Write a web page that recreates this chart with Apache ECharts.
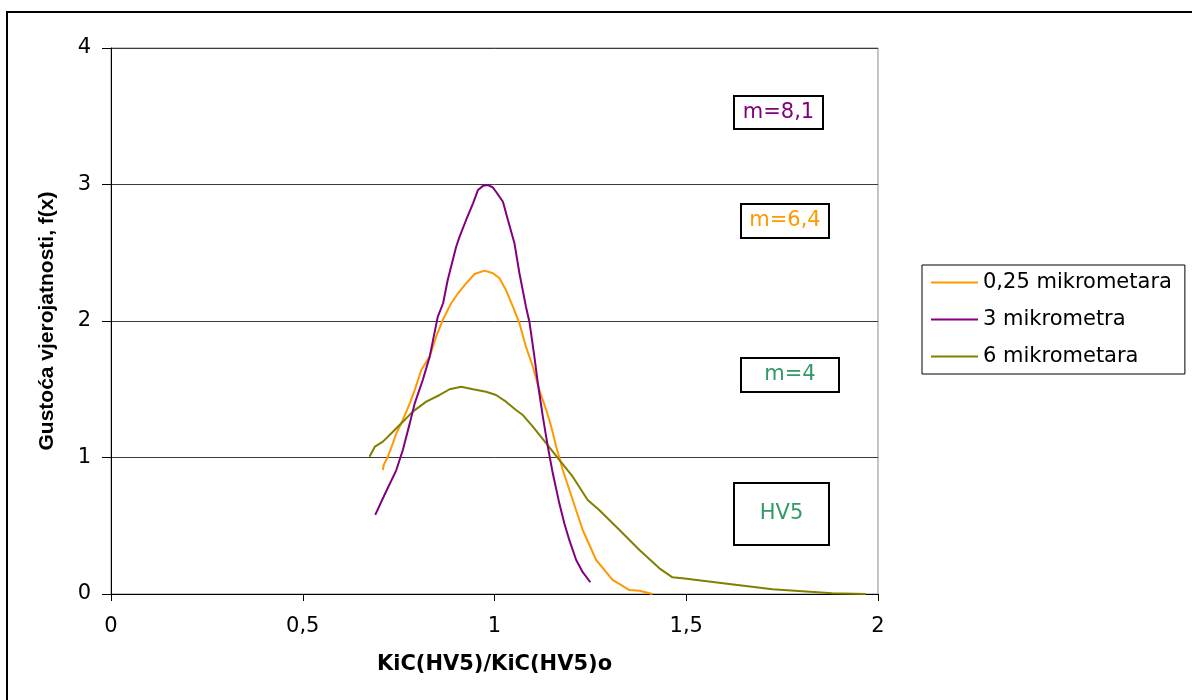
<!DOCTYPE html>
<html>
<head>
<meta charset="utf-8">
<script src="https://cdn.jsdelivr.net/npm/echarts@6/dist/echarts.min.js"></script>
<style>
html,body{margin:0;padding:0;background:#fff;}
#chart{width:1192px;height:700px;}
</style>
</head>
<body>
<div id="chart"></div>
<script>
// ---- data ----
const seriesNames = ['0,25 mikrometara', '3 mikrometra', '6 mikrometara'];

const orangeX = [0.709,0.711,0.722,0.735,0.744,0.761,0.779,0.792,0.809,0.831,0.848,0.865,0.887,0.905,0.926,0.948,0.974,0.996,1.013,1.030,1.048,1.065,1.082,1.100,1.117,1.135,1.148,1.161,1.178,1.204,1.230,1.265,1.308,1.352,1.378,1.412];
const orangeY = [0.908,0.945,1.006,1.104,1.177,1.275,1.397,1.494,1.641,1.739,1.885,2.007,2.130,2.203,2.276,2.344,2.369,2.350,2.313,2.227,2.105,1.983,1.812,1.665,1.494,1.348,1.226,1.079,0.908,0.689,0.469,0.249,0.103,0.029,0.024,0.000];

const purpleX = [0.689,0.713,0.744,0.761,0.779,0.792,0.813,0.831,0.852,0.866,0.878,0.900,0.909,0.926,0.944,0.957,0.970,0.983,0.995,1.004,1.022,1.035,1.052,1.065,1.082,1.091,1.104,1.113,1.126,1.139,1.152,1.169,1.182,1.195,1.213,1.230,1.250];
const purpleY = [0.580,0.725,0.908,1.055,1.250,1.397,1.568,1.739,2.030,2.130,2.300,2.544,2.618,2.740,2.862,2.960,2.990,2.996,2.980,2.947,2.874,2.740,2.570,2.350,2.105,1.995,1.739,1.544,1.300,1.080,0.884,0.664,0.518,0.396,0.249,0.160,0.086];

const oliveX = [0.674,0.688,0.709,0.735,0.761,0.787,0.822,0.857,0.883,0.913,0.944,0.978,1.004,1.030,1.056,1.074,1.100,1.135,1.169,1.204,1.243,1.273,1.326,1.378,1.430,1.464,1.490,1.612,1.725,1.881,1.968];
const oliveY = [1.006,1.079,1.116,1.189,1.262,1.336,1.409,1.458,1.500,1.519,1.500,1.482,1.458,1.409,1.348,1.311,1.226,1.104,0.982,0.859,0.689,0.615,0.469,0.322,0.188,0.122,0.115,0.073,0.034,0.005,0.000];

const xTicks = {min: 0, max: 2, interval: 0.5};
const yTicks = {min: 0, max: 4, interval: 1};

const annotations = [
  {text: 'm=8,1', color: '#800080'},
  {text: 'm=6,4', color: '#FF9900'},
  {text: 'm=4', color: '#339966'},
  {text: 'HV5', color: '#339966'}
];
const xTitle = 'KiC(HV5)/KiC(HV5)o';
const yTitle = 'Gustoća vjerojatnosti, f(x)';

// ---- build ----
function zip(xs, ys){ return xs.map((x,i)=>[x, ys[i]]); }
const colors = ['#FF9900', '#800080', '#808000'];
const dataSets = [zip(orangeX, orangeY), zip(purpleX, purpleY), zip(oliveX, oliveY)];

const hFont = 'DejaVu Sans';
const fmt = v => String(v).replace('.', ',');

// annotation box geometry (layout only)
const boxes = [
  {x: 734, y: 96, w: 89, h: 33},
  {x: 741, y: 204, w: 88, h: 34},
  {x: 741, y: 358, w: 98, h: 34},
  {x: 734, y: 483, w: 95, h: 62}
];
const graphics = [
  {type: 'rect', shape: {x: 7, y: 12, width: 1200, height: 700}, style: {fill: 'none', stroke: '#000', lineWidth: 2}, z: 0, silent: true}
];
annotations.forEach((a, i) => {
  const b = boxes[i];
  graphics.push({type: 'rect', shape: {x: b.x, y: b.y, width: b.w, height: b.h}, style: {fill: '#fff', stroke: '#000', lineWidth: 2}, z: 10});
  graphics.push({type: 'text', x: b.x + b.w/2, y: b.y + b.h/2, style: {text: a.text, fill: a.color, font: '21px "' + hFont + '"', textAlign: 'center', textVerticalAlign: 'middle'}, z: 11});
});

const chart = echarts.init(document.getElementById('chart'), null, {renderer: 'canvas'});
chart.setOption({
  backgroundColor: '#fff',
  animation: false,
  grid: {left: 111, right: 314, top: 48, bottom: 106, show: true, borderColor: '#8c8c8c', borderWidth: 1, backgroundColor: '#fff'},
  legend: {
    orient: 'vertical', left: 922, top: 265,
    data: seriesNames.map(n => ({name: n, icon: 'rect'})),
    itemWidth: 47, itemHeight: 2, itemGap: 16,
    padding: [7, 13, 7, 9],
    borderColor: '#000', borderWidth: 1, backgroundColor: '#fff',
    textStyle: {fontFamily: hFont, fontSize: 21, color: '#000', lineHeight: 21}
  },
  xAxis: {
    type: 'value', min: xTicks.min, max: xTicks.max, interval: xTicks.interval,
    name: xTitle, nameLocation: 'middle', nameGap: 60,
    nameTextStyle: {fontFamily: hFont, fontWeight: 'bold', fontSize: 21, color: '#000'},
    axisLine: {show: true, onZero: false, lineStyle: {color: '#000', width: 1}},
    axisTick: {show: true, length: 7, lineStyle: {color: '#000'}},
    axisLabel: {formatter: fmt, fontFamily: hFont, fontSize: 21, color: '#000', margin: 22},
    splitLine: {show: false}
  },
  yAxis: {
    type: 'value', min: yTicks.min, max: yTicks.max, interval: yTicks.interval,
    name: yTitle, nameLocation: 'middle', nameGap: 53, nameRotate: 90,
    nameTextStyle: {fontFamily: 'Liberation Sans', fontWeight: 'bold', fontSize: 21, color: '#000'},
    axisLine: {show: true, onZero: false, lineStyle: {color: '#000', width: 1}},
    axisTick: {show: true, length: 9, lineStyle: {color: '#000'}},
    axisLabel: {formatter: fmt, fontFamily: hFont, fontSize: 21, color: '#000', margin: 20},
    splitLine: {show: true, lineStyle: {color: '#3a3a3a', width: 1}}
  },
  series: dataSets.map((d, i) => ({
    name: seriesNames[i], type: 'line', data: d,
    showSymbol: false, symbol: 'none', smooth: false,
    color: colors[i],
    itemStyle: {color: colors[i]},
    lineStyle: {color: colors[i], width: 2},
    z: 3 + (i === 1 ? 1 : 0)
  })),
  graphic: graphics
});
</script>
</body>
</html>
